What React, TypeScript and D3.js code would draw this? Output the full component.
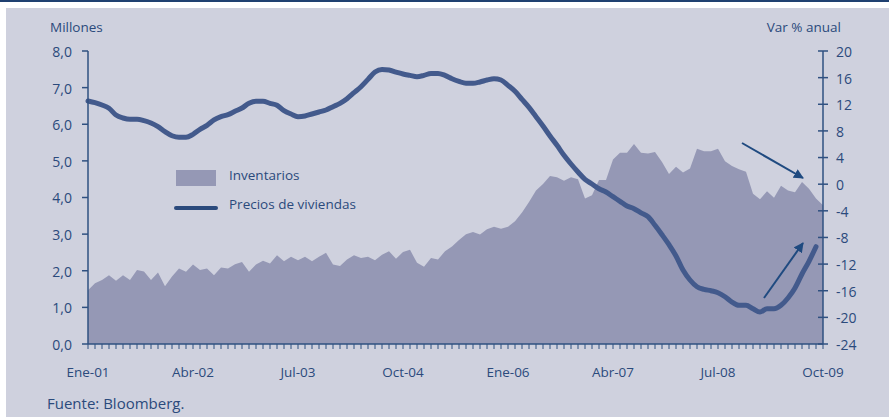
import React from "react";
import * as d3 from "d3";

const months: string[] = ["Ene", "Feb", "Mar", "Abr", "May", "Jun", "Jul", "Ago", "Sep", "Oct", "Nov", "Dic"];

const inventarios: number[] = [
  1.47, 1.66, 1.75, 1.88, 1.73, 1.88, 1.75, 2.02, 1.98, 1.75,
  1.95, 1.58, 1.84, 2.06, 1.97, 2.17, 2.02, 2.06, 1.88, 2.09,
  2.06, 2.18, 2.24, 1.97, 2.17, 2.27, 2.20, 2.42, 2.26, 2.38,
  2.29, 2.38, 2.26, 2.38, 2.49, 2.17, 2.13, 2.31, 2.42, 2.35,
  2.38, 2.29, 2.44, 2.53, 2.33, 2.51, 2.57, 2.22, 2.11, 2.35,
  2.31, 2.53, 2.66, 2.84, 3.00, 3.06, 2.99, 3.13, 3.20, 3.15,
  3.20, 3.35, 3.59, 3.88, 4.19, 4.37, 4.59, 4.55, 4.46, 4.55,
  4.50, 3.97, 4.06, 4.48, 4.48, 5.04, 5.22, 5.22, 5.46, 5.22,
  5.20, 5.24, 4.97, 4.64, 4.84, 4.68, 4.79, 5.33, 5.26, 5.26,
  5.33, 4.99, 4.86, 4.77, 4.70, 4.10, 3.95, 4.17, 3.99, 4.32,
  4.19, 4.14, 4.42, 4.24, 3.97, 3.79,
];

const precios: number[] = [
  12.49, 12.24, 11.89, 11.39, 10.39, 9.94, 9.74, 9.74, 9.54, 9.19,
  8.63, 7.88, 7.28, 7.04, 7.04, 7.49, 8.24, 8.84, 9.64, 10.14,
  10.44, 10.94, 11.44, 12.14, 12.44, 12.44, 12.14, 11.84, 11.04, 10.54,
  10.14, 10.24, 10.54, 10.84, 11.14, 11.64, 12.14, 12.84, 13.74, 14.64,
  15.74, 16.84, 17.24, 17.15, 16.84, 16.54, 16.34, 16.14, 16.34, 16.64,
  16.64, 16.34, 15.84, 15.44, 15.15, 15.15, 15.35, 15.64, 15.84, 15.64,
  14.84, 13.94, 12.74, 11.54, 10.14, 8.74, 7.24, 5.84, 4.34, 3.03,
  1.83, 0.73, 0.03, -0.68, -1.17, -1.88, -2.57, -3.28, -3.68, -4.3,
  -4.88, -6.17, -7.59, -9.09, -10.78, -12.89, -14.39, -15.4, -15.79, -16.0,
  -16.3, -16.9, -17.7, -18.19, -18.19, -18.7, -19.19, -18.7, -18.7, -18.19,
  -17.09, -15.59, -13.49, -11.58, -9.39,
];

const leftTicks: number[] = [0, 1, 2, 3, 4, 5, 6, 7, 8];
const rightTicks: number[] = [-24, -20, -16, -12, -8, -4, 0, 4, 8, 12, 16, 20];
const xLabelMonths: number[] = [0, 15, 30, 45, 60, 75, 90, 105];

const monthLabel = (m: number) => {
  const y = 2001 + Math.floor(m / 12);
  return `${months[m % 12]}-${String(y % 100).padStart(2, "0")}`;
};

const W = 889;
const H = 417;
const L = 88;
const R = 823;
const T = 51;
const B = 344;

const TEXT = "#2b4a7c";
const AXIS = "#2f5080";
const BG = "#cfd1de";
const AREA = "#9598b5";
const LINE = "#435a8c";
const FONT = "'Open Sans', 'DejaVu Sans', sans-serif";

export default function App() {
  const x = d3.scaleLinear().domain([0, 105]).range([L, R]);
  const yL = d3.scaleLinear().domain([0, 8]).range([B, T]);
  const yR = d3.scaleLinear().domain([-24, 20]).range([B, T]);

  const area = d3
    .area<number>()
    .x((_, i) => x(i))
    .y0(yL(0))
    .y1((d) => yL(d))(inventarios) as string;

  const line = d3
    .line<number>()
    .x((_, i) => x(i))
    .y((d) => yR(d))
    .curve(d3.curveMonotoneX)(precios) as string;

  const monthTicks = d3.range(0, 106);

  return (
    <svg
      width={W}
      height={H}
      style={{ position: "absolute", left: 0, top: 0, display: "block" }}
      fontFamily={FONT}
    >
      <defs>
        <marker
          id="arr"
          viewBox="0 0 10 10"
          refX="9"
          refY="5"
          markerWidth="5"
          markerHeight="5"
          orient="auto"
          markerUnits="strokeWidth"
        >
          <path d="M0,0 L10,5 L0,10 z" fill="#1f4a80" />
        </marker>
      </defs>
      <rect x={0} y={0} width={W} height={H} fill="#ffffff" />
      <line x1={0} x2={W} y1={1} y2={1} stroke="#1f4070" strokeWidth={2} />
      <rect x={6} y={8} width={W - 6} height={H - 8} fill={BG} />

      <path d={area} fill={AREA} />
      <path d={line} fill="none" stroke={LINE} strokeWidth={5} strokeLinejoin="round" strokeLinecap="round" />

      {/* arrows */}
      <line x1={742} y1={143} x2={803} y2={178} stroke="#1f4a80" strokeWidth={2} markerEnd="url(#arr)" />
      <line x1={764} y1={298} x2={803} y2={243} stroke="#1f4a80" strokeWidth={2} markerEnd="url(#arr)" />

      {/* left axis */}
      <line x1={L} x2={L} y1={T} y2={B} stroke={AXIS} strokeWidth={1.5} />
      {leftTicks.map((t) => (
        <g key={`l${t}`}>
          <line x1={L - 6} x2={L} y1={yL(t)} y2={yL(t)} stroke={AXIS} strokeWidth={1.5} />
          <text x={72} y={yL(t)} dy="0.42em" textAnchor="end" fontSize={14} fill={TEXT}>
            {t.toFixed(1).replace(".", ",")}
          </text>
        </g>
      ))}

      {/* right axis */}
      <line x1={R} x2={R} y1={T} y2={B} stroke={AXIS} strokeWidth={1.5} />
      {rightTicks.map((t) => (
        <g key={`r${t}`}>
          <line x1={R - 5} x2={R + 5} y1={yR(t)} y2={yR(t)} stroke={AXIS} strokeWidth={1.5} />
          <text x={836} y={yR(t)} dy="0.42em" textAnchor="start" fontSize={14} fill={TEXT}>
            {t}
          </text>
        </g>
      ))}

      {/* bottom axis */}
      <line x1={L} x2={R} y1={B} y2={B} stroke={AXIS} strokeWidth={1.5} />
      {monthTicks.map((m) => (
        <line key={`m${m}`} x1={x(m)} x2={x(m)} y1={B} y2={B + 5} stroke={AXIS} strokeWidth={1} />
      ))}
      {xLabelMonths.map((m) => (
        <text key={`xl${m}`} x={x(m)} y={377} textAnchor="middle" fontSize={13.5} fill={TEXT}>
          {monthLabel(m)}
        </text>
      ))}

      <text x={50} y={32} fontSize={13.5} fill={TEXT}>Millones</text>
      <text x={841} y={32} textAnchor="end" fontSize={13.5} fill={TEXT}>Var % anual</text>

      {/* legend */}
      <rect x={176} y={170} width={40} height={16} fill={AREA} />
      <text x={229} y={180} fontSize={13.5} fill={TEXT}>Inventarios</text>
      <line x1={176} x2={216} y1={208} y2={208} stroke="#2b4a7c" strokeWidth={4} strokeLinecap="round" />
      <text x={229} y={209} fontSize={13.5} fill={TEXT}>Precios de viviendas</text>

      <text x={47} y={409} fontSize={15} fill={TEXT}>Fuente: Bloomberg.</text>
    </svg>
  );
}
